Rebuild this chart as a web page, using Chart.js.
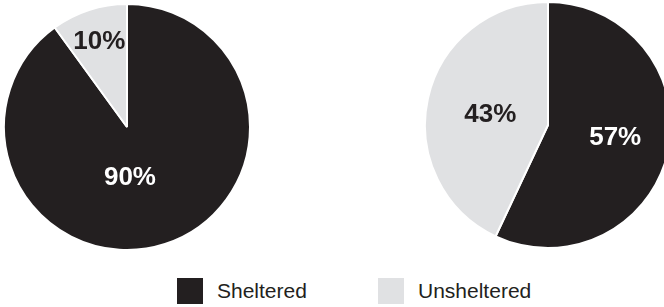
<!DOCTYPE html>
<html>
<head>
<meta charset="utf-8">
<script src="https://cdn.jsdelivr.net/npm/chart.js@4"></script>
<style>
    html, body { margin: 0; padding: 0; width: 664px; height: 307px; overflow: hidden; background: #fff; }
    .pie { position: absolute; width: 248px; height: 248px; }
    #pieLeft { left: 3px; top: 3px; }
    #pieRight { left: 424px; top: 1px; width: 248px; }
    .legend { position: absolute; top: 278px; display: flex; align-items: center;
        font-family: "Liberation Sans", Arial, sans-serif; font-size: 21px; color: #231f20; }
    .legend span.box { display: inline-block; width: 26px; height: 26px; margin-right: 14px; }
</style>
</head>
<body>
<div class="pie" id="pieLeft"><canvas id="chartLeft"></canvas></div>
<div class="pie" id="pieRight"><canvas id="chartRight"></canvas></div>
<div id="legendArea"></div>

<script>
// Data
var categories = ['Sheltered', 'Unsheltered'];
var leftValues = [90, 10];
var rightValues = [57, 43];
var colors = ['#231f20', '#e0e1e3'];
var labelColors = ['#ffffff', '#231f20'];

// Draw percentage text inside each slice
var sliceLabels = {
    id: 'sliceLabels',
    afterDatasetsDraw: function(chart, args, opts) {
        var ctx = chart.ctx;
        var meta = chart.getDatasetMeta(0);
        var values = chart.data.datasets[0].data;
        ctx.save();
        ctx.font = 'bold 26px "Liberation Sans", Arial, sans-serif';
        ctx.textAlign = 'center';
        ctx.textBaseline = 'middle';
        meta.data.forEach(function(arc, i) {
            var p = arc.getProps(['x', 'y', 'startAngle', 'endAngle', 'outerRadius'], true);
            var mid = (p.startAngle + p.endAngle) / 2;
            var r = p.outerRadius * opts.frac[i];
            var nudge = opts.nudge[i];
            ctx.fillStyle = labelColors[i];
            ctx.fillText(values[i] + '%', p.x + Math.cos(mid) * r + nudge[0], p.y + Math.sin(mid) * r + nudge[1]);
        });
        ctx.restore();
    }
};

function makePie(id, values, frac, nudge) {
    var ctx = document.getElementById(id).getContext('2d');
    return new Chart(ctx, {
        type: 'pie',
        data: {
            labels: categories,
            datasets: [{
                data: values,
                backgroundColor: colors,
                borderColor: '#ffffff',
                borderWidth: 2
            }]
        },
        options: {
            responsive: true,
            maintainAspectRatio: false,
            animation: false,
            layout: { padding: 0 },
            plugins: {
                legend: { display: false },
                tooltip: { enabled: false },
                sliceLabels: { frac: frac, nudge: nudge }
            }
        },
        plugins: [sliceLabels]
    });
}

makePie('chartLeft', leftValues, [0.42, 0.73], [[-13, 2], [0, 0]]);
makePie('chartRight', rightValues, [0.56, 0.48], [[0, -2], [0, 3]]);

// Legend built from categories
var legendX = [177, 378];
var legendArea = document.getElementById('legendArea');
categories.forEach(function(name, i) {
    var item = document.createElement('div');
    item.className = 'legend';
    item.style.left = legendX[i] + 'px';
    item.innerHTML = '<span class="box" style="background:' + colors[i] + '"></span>' + name;
    legendArea.appendChild(item);
});
</script>
</body>
</html>
